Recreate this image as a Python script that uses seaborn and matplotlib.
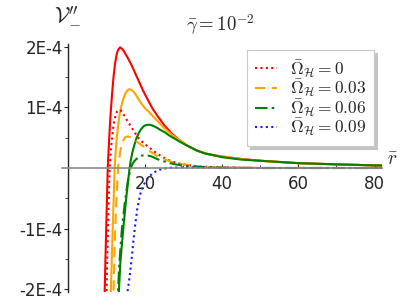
"""
Second derivative of the effective potential V''_- versus r for several
horizon angular velocities (gamma = 1e-2). Solid curves: upper branch,
styled curves: lower branch.
"""

import numpy as np
import matplotlib
matplotlib.use("Agg")
import matplotlib.pyplot as plt
from matplotlib.lines import Line2D
from matplotlib.ticker import FixedLocator, FixedFormatter
import seaborn as sns

# values, V in units of 1e-4
r_red_solid = [9.4, 9.7, 10.0, 10.3, 10.6, 11.0, 11.4, 11.8, 12.2, 12.6, 13.0, 13.5, 14.0,
               14.5, 15.5, 16.5, 17.5, 18.5, 19.5, 20.8, 22.0, 23.4, 25.0, 27.0, 29.0,
               31.3, 33.5, 35.7, 38, 40, 45, 50, 55, 60, 70, 82]
v_red_solid = [-2.3, -1.5, -0.75, 0.0, 0.4, 0.85, 1.2, 1.5, 1.72, 1.87, 1.95, 1.99, 1.97,
               1.93, 1.82, 1.70, 1.56, 1.42, 1.28, 1.12, 0.98, 0.85, 0.71, 0.57, 0.46,
               0.36, 0.29, 0.24, 0.21, 0.19, 0.15, 0.12, 0.10, 0.08, 0.06, 0.04]

r_orange_solid = [11.0, 11.4, 11.8, 12.1, 12.4, 12.7, 13.0, 13.4, 13.8, 14.3, 14.8, 15.3,
                  15.8, 16.4, 17.0, 17.6, 18.2, 19.0, 20.0, 20.8, 22.0, 23.4, 25.0, 27.0,
                  29.0, 31.3, 33.5, 36, 38, 40, 45, 50, 55, 60, 70, 82]
v_orange_solid = [-2.3, -1.4, -0.6, 0.0, 0.3, 0.52, 0.70, 0.88, 1.01, 1.13, 1.22, 1.27,
                  1.30, 1.29, 1.26, 1.21, 1.15, 1.07, 0.99, 0.94, 0.86, 0.77, 0.66, 0.55,
                  0.46, 0.36, 0.29, 0.24, 0.21, 0.19, 0.15, 0.12, 0.10, 0.08, 0.06, 0.04]

r_green_solid = [13.0, 13.6, 14.4, 15.2, 16.0, 16.3, 16.7, 17.2, 17.8, 18.4, 19.0, 19.7,
                 20.4, 21.2, 22.0, 23.0, 24.0, 25.2, 26.5, 27.9, 29.5, 31.3, 33.5, 35.7,
                 38, 40, 45, 50, 55, 60, 70, 82]
v_green_solid = [-2.3, -1.55, -0.97, -0.45, 0.0, 0.12, 0.25, 0.37, 0.49, 0.58, 0.64, 0.69,
                 0.71, 0.715, 0.70, 0.67, 0.63, 0.59, 0.53, 0.48, 0.42, 0.36, 0.29, 0.24,
                 0.21, 0.18, 0.14, 0.12, 0.10, 0.08, 0.06, 0.04]

r_red_dot = [9.9, 10.2, 10.5, 10.8, 11.0, 11.3, 11.6, 11.9, 12.3, 12.7, 13.2, 13.7, 14.3,
             15.0, 15.7, 16.5, 17.4, 18.4, 19.5, 20.5, 21.3, 22.5, 23.9, 25.2, 26.5, 28.0,
             29.5, 31, 33, 36, 40, 45, 50, 60, 70, 82]
v_red_dot = [-2.3, -1.4, -0.65, 0.0, 0.2, 0.42, 0.6, 0.74, 0.86, 0.93, 0.96, 0.95, 0.90,
             0.82, 0.75, 0.67, 0.58, 0.49, 0.42, 0.37, 0.33, 0.27, 0.21, 0.16, 0.12, 0.09,
             0.065, 0.05, 0.03, 0.02, 0.01, 0.005, 0.0, 0.0, 0.0, 0.0]

r_orange_dash = [11.7, 12.1, 12.5, 13.0, 13.2, 13.5, 13.9, 14.4, 14.9, 15.5, 16.1, 16.8,
                 17.6, 18.4, 19.3, 20.2, 21.2, 22.2, 23.1, 24.5, 26, 27.5, 29, 31, 33,
                 36, 40, 45, 50, 60, 70, 82]
v_orange_dash = [-2.3, -1.3, -0.6, 0.0, 0.1, 0.25, 0.38, 0.46, 0.51, 0.52, 0.51, 0.49,
                 0.45, 0.41, 0.37, 0.33, 0.28, 0.24, 0.20, 0.16, 0.12, 0.09, 0.07, 0.05,
                 0.03, 0.015, 0.008, 0.004, 0.0, 0.0, 0.0, 0.0]

r_green_dashdot = [12.8, 13.3, 14.0, 14.8, 15.6, 16.3, 16.7, 17.2, 17.8, 18.5, 19.2, 20.0,
                   20.8, 21.8, 22.8, 23.9, 25, 26.5, 28, 30, 32, 35, 40, 45, 50, 60, 70, 82]
v_green_dashdot = [-2.3, -1.6, -1.0, -0.55, -0.2, 0.0, 0.06, 0.11, 0.15, 0.185, 0.205,
                   0.21, 0.205, 0.19, 0.16, 0.13, 0.11, 0.08, 0.06, 0.04, 0.03, 0.015,
                   0.005, 0.002, 0.0, 0.0, 0.0, 0.0]

r_blue_dot = [15.2, 15.4, 16.0, 16.5, 17.0, 17.4, 18.0, 18.7, 19.4, 20.0, 20.9, 21.8,
              23.0, 24.0, 25.5, 27, 30, 35, 40, 50, 60, 70, 82]
v_blue_dot = [-2.3, -2.07, -1.8, -1.52, -1.2, -0.97, -0.68, -0.45, -0.32, -0.24, -0.16,
              -0.10, -0.05, -0.025, -0.005, 0.005, 0.01, 0.008, 0.004, 0.0, 0.0, 0.0, 0.0]

legend_labels = [r"$\bar{\Omega}_{\mathcal{H}}=0$", r"$\bar{\Omega}_{\mathcal{H}}=0.03$",
                 r"$\bar{\Omega}_{\mathcal{H}}=0.06$", r"$\bar{\Omega}_{\mathcal{H}}=0.09$"]
ytick_vals = [-2, -1, 1, 2]
ytick_labels = ["-2E-4", "-1E-4", "1E-4", "2E-4"]
xtick_vals = [20, 40, 60, 80]

sns.set_style("white")
plt.rcParams["font.family"] = ["DejaVu Sans"]
plt.rcParams["mathtext.fontset"] = "cm"

fig = plt.figure(figsize=(4.07, 3.08), dpi=100)
W, H = 407, 308
x0_px, px_per_x = 68.3, 3.83
y0_px, px_per_y = 168.0, 60.6
xmin, xmax = -1.7, 82
ymin, ymax = -2.05, 2.05
left = (x0_px + xmin * px_per_x) / W
width = (xmax - xmin) * px_per_x / W
bottom = (H - (y0_px - ymin * px_per_y)) / H
height = (ymax - ymin) * px_per_y / H
ax = fig.add_axes([left, bottom, width, height])

red, orange, green, blue = "#ff0000", "#ffa500", "#008000", "#1a1aff"
lw = 1.5
dot = (0, (1, 1.6))
dash = (0, (5, 3))
dashdot = (0, (6, 2, 1.2, 2))
series = [
    (r_red_solid, v_red_solid, red, "-"),
    (r_orange_solid, v_orange_solid, orange, "-"),
    (r_green_solid, v_green_solid, green, "-"),
    (r_red_dot, v_red_dot, red, dot),
    (r_orange_dash, v_orange_dash, orange, dash),
    (r_green_dashdot, v_green_dashdot, green, dashdot),
    (r_blue_dot, v_blue_dot, blue, dot),
]
for rr, vv, col, ls in series:
    sns.lineplot(x=rr, y=vv, ax=ax, color=col, linestyle=ls, lw=lw,
                 estimator=None, sort=False, legend=False)

ax.set_xlim(xmin, xmax)
ax.set_ylim(ymin, ymax)

# axes through the origin
for s in ["top", "right"]:
    ax.spines[s].set_visible(False)
ax.spines["left"].set_position(("data", 0))
ax.spines["bottom"].set_position(("data", 0))
ax.spines["left"].set_color("#222222")
ax.spines["bottom"].set_color("#8a8a8a")
ax.spines["left"].set_linewidth(1.0)
ax.spines["bottom"].set_linewidth(1.2)

ax.yaxis.set_major_locator(FixedLocator(ytick_vals))
ax.yaxis.set_major_formatter(FixedFormatter(ytick_labels))
ax.yaxis.set_minor_locator(FixedLocator([-1.5, -0.5, 0.5, 1.5]))
ax.xaxis.set_major_locator(FixedLocator(xtick_vals))
ax.xaxis.set_minor_locator(FixedLocator([10, 30, 50, 70]))
ax.tick_params(axis="y", which="major", direction="out", length=3, width=0.8,
               pad=1, labelsize=12, left=True)
ax.tick_params(axis="y", which="minor", direction="out", length=2, width=0.6, left=True)
ax.tick_params(axis="x", which="major", direction="in", length=3, width=0.8,
               pad=5, labelsize=12, bottom=True)
ax.tick_params(axis="x", which="minor", direction="in", length=2, width=0.6, bottom=True)
ax.set_xlabel("")
ax.set_ylabel("")

fig.text(54 / W, 1 - 4 / H, r"$\mathcal{V}_{-}^{\prime\prime}$", fontsize=16,
         ha="left", va="top")
fig.text(393 / W, 1 - 160 / H, r"$\bar{r}$", fontsize=14, ha="center", va="center")
fig.text(220 / W, 1 - 25 / H, r"$\bar{\gamma}=10^{-2}$", fontsize=13.5,
         ha="center", va="center")

handles = [Line2D([], [], color=c, lw=lw, linestyle=ls)
           for c, ls in [(red, dot), (orange, dash), (green, dashdot), (blue, dot)]]
leg = fig.legend(handles, legend_labels, loc="upper left",
                 bbox_to_anchor=(247 / W, 1 - 50 / H), bbox_transform=fig.transFigure,
                 fontsize=12.5, frameon=True, fancybox=False,
                 shadow={"color": "#c4c4c4", "alpha": 1},
                 handlelength=1.3, handletextpad=0.7, labelspacing=-0.12,
                 borderpad=0.45, borderaxespad=0)
leg.get_frame().set_edgecolor("#c8c8c8")
leg.get_frame().set_linewidth(0.8)

fig.savefig("out.png", dpi=100)
